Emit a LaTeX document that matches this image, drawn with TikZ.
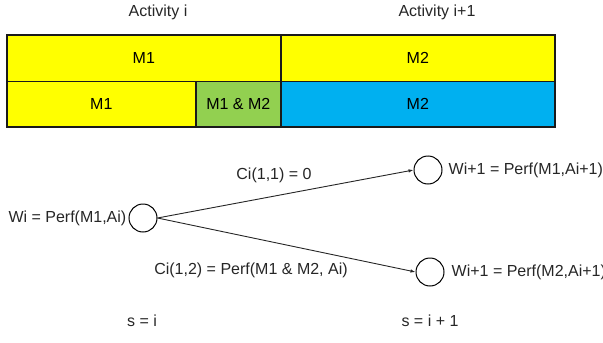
\documentclass[tikz,border=0pt]{standalone}
\usepackage{fontspec}
\setmainfont{Liberation Sans}
\usetikzlibrary{arrows.meta,positioning}
\definecolor{cellyellow}{HTML}{FFFF00}
\definecolor{cellgreen}{HTML}{92D050}
\definecolor{cellcyan}{HTML}{00B0F0}
\definecolor{edgedark}{HTML}{1A1A1A}
\tikzset{
  cell/.style={draw=edgedark, line width=1.6pt, inner sep=0pt, anchor=north west,
    font=\fontsize{16}{19}\selectfont},
  state/.style={draw=black, circle, line width=1pt, minimum size=28pt, inner sep=0pt},
  lbl/.style={font=\fontsize{16}{19}\selectfont, inner sep=0pt, text=black!85},
  trans/.style={draw=black!85, line width=0.9pt, -{Latex[length=5pt,width=3.5pt]}}
}
\begin{document}
\begin{tikzpicture}[x=1pt,y=-1pt]
\useasboundingbox (0,0) rectangle (603,343);
% headers
\node[lbl] (acti) at (158,12) {Activity i};
\node[lbl] (actj) at (437,12) {Activity i+1};
% table cells
\node[cell, fill=cellyellow, minimum width=274pt, minimum height=46.5pt] (tl) at (6,34) {M1};
\node[cell, fill=cellyellow, minimum width=274pt, minimum height=46.5pt] (tr) at (280,34) {M2};
\node[cell, fill=cellyellow, minimum width=189pt, minimum height=45.5pt] (bl) at (6,80.5) {M1};
\node[cell, fill=cellgreen, minimum width=85pt, minimum height=45.5pt] (bm) at (195,80.5) {M1 \& M2};
\node[cell, fill=cellcyan, minimum width=274pt, minimum height=45.5pt] (br) at (280,80.5) {M2};
% states
\node[state] (w0) at (143,218) {};
\node[state] (w1) at (428,170) {};
\node[state] (w2) at (430,272) {};
\node[lbl, anchor=east] (w0l) at ([xshift=-2pt]w0.west) {Wi = Perf(M1,Ai)};
\node[lbl, anchor=west] (w1l) at ([xshift=6pt]w1.east) {Wi+1 = Perf(M1,Ai+1)};
\node[lbl, anchor=west] (w2l) at ([xshift=7pt]w2.east) {Wi+1 = Perf(M2,Ai+1)};
% transitions
\draw[trans] (w0.east) -- (w1.west);
\draw[trans] (w0.east) -- (w2.west);
\node[lbl] (c11) at (274,175) {Ci(1,1) = 0};
\node[lbl] (c12) at (251,270) {Ci(1,2) = Perf(M1 \& M2, Ai)};
% stage labels
\node[lbl] (si) at (142,321) {s = i};
\node[lbl] (sj) at (430,321) {s = i + 1};
\end{tikzpicture}
\end{document}
